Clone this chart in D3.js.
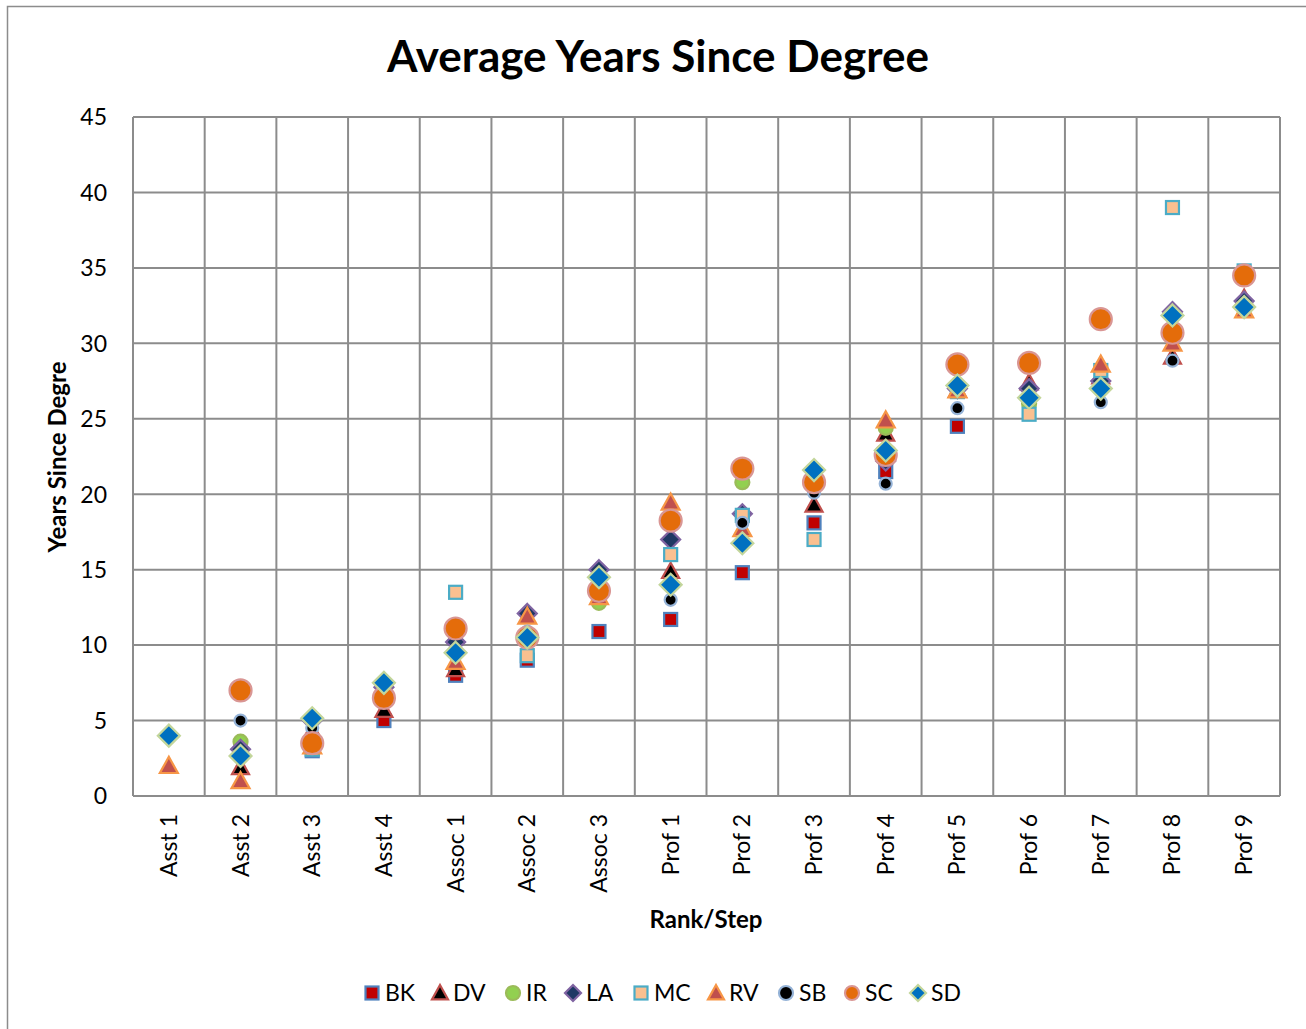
<!DOCTYPE html>
<html>
<head>
<meta charset="utf-8">
<script src="https://cdn.jsdelivr.net/npm/d3@7"></script>
<style>
  body { margin: 0; background: #fff; }
  text { font-family: Lato, "Open Sans", sans-serif; fill: #000; }
</style>
</head>
<body>
<svg id="chart" width="1306" height="1029"></svg>
<script>
// categories along the x axis
var steps = ["Asst 1","Asst 2","Asst 3","Asst 4","Assoc 1","Assoc 2","Assoc 3",
  "Prof 1","Prof 2","Prof 3","Prof 4","Prof 5","Prof 6","Prof 7","Prof 8","Prof 9"];

// values per campus, null = no point
var BK = [null, null, 3.0, 5.0, 8.0, 9.0, 10.9, 11.7, 14.8, 18.1, 21.5, 24.5, null, null, null, null];
var DV = [null, 1.9, 4.3, 5.7, 8.4, null, null, 14.9, null, 19.3, 24.0, 26.9, 27.4, 27.8, 29.1, 33.0];
var IR = [null, 3.6, null, null, null, null, 12.8, null, 20.8, null, 24.4, null, 26.0, null, null, null];
var LA = [null, 3.1, 5.0, 7.2, 10.2, 12.1, 15.0, 17.0, 18.7, null, 22.2, 27.0, 27.0, 27.5, 32.1, 32.8];
var MC = [null, null, 3.1, null, 13.5, 9.3, null, 16.0, 18.6, 17.0, null, 26.8, 25.3, 28.2, 39.0, 34.8];
var RV = [2.0, 1.0, 3.3, null, 8.9, 11.9, 13.2, 19.45, 17.7, null, 24.9, 26.9, null, 28.6, 30.0, 32.2];
var SB = [null, 5.0, 4.5, null, null, 10.9, null, 13.0, 18.1, 20.1, 20.7, 25.7, null, 26.1, 28.85, null];
var SC = [null, 7.0, 3.5, 6.5, 11.1, 10.5, 13.6, 18.25, 21.7, 20.8, 22.6, 28.6, 28.7, 31.6, 30.7, 34.5];
var SD = [4.0, 2.65, 5.15, 7.5, 9.5, 10.5, 14.5, 14.0, 16.75, 21.6, 22.9, 27.2, 26.4, 27.0, 31.85, 32.4];

var yTicks = [0, 5, 10, 15, 20, 25, 30, 35, 40, 45];

var series = [
  {name: "BK", vals: BK, shape: "square",   size: 13, fill: "#C00000", stroke: "#4F81BD"},
  {name: "DV", vals: DV, shape: "triangle", size: 17, fill: "#000000", stroke: "#C0504D"},
  {name: "IR", vals: IR, shape: "circle",   size: 14, fill: "#92D050", stroke: "#9BBB59"},
  {name: "LA", vals: LA, shape: "diamond",  size: 19, fill: "#1F3864", stroke: "#8064A2"},
  {name: "MC", vals: MC, shape: "square",   size: 13, fill: "#FAC090", stroke: "#4BACC6"},
  {name: "RV", vals: RV, shape: "triangle", size: 18, fill: "#C0504D", stroke: "#F79646"},
  {name: "SB", vals: SB, shape: "circle",   size: 12, fill: "#000000", stroke: "#95B3D7"},
  {name: "SC", vals: SC, shape: "circle",   size: 22, fill: "#E46C0A", stroke: "#D99694"},
  {name: "SD", vals: SD, shape: "diamond",  size: 22, fill: "#0070C0", stroke: "#C3D69B"}
];

(function () {
  var svg = d3.select("#chart");
  var pLeft = 133, pRight = 1280, pTop = 117, pBottom = 796;

  // outer chart border
  svg.append("rect").attr("x", 7.5).attr("y", 6.5).attr("width", 1310).attr("height", 1040)
    .attr("fill", "none").attr("stroke", "#8c8c8c").attr("stroke-width", 1.5);

  var x = d3.scaleBand().domain(steps).range([pLeft, pRight]);
  var y = d3.scaleLinear().domain([0, 45]).range([pBottom, pTop]);

  // grid
  var g = svg.append("g");
  g.selectAll(".h").data(yTicks).enter().append("line")
    .attr("x1", pLeft).attr("x2", pRight)
    .attr("y1", d => y(d)).attr("y2", d => y(d))
    .attr("stroke", "#8c8c8c").attr("stroke-width", 2);
  var vlines = steps.map(s => x(s)).concat([pRight]);
  g.selectAll(".v").data(vlines).enter().append("line")
    .attr("x1", d => d).attr("x2", d => d)
    .attr("y1", pTop).attr("y2", pBottom)
    .attr("stroke", "#8c8c8c").attr("stroke-width", 2);

  // y tick labels
  svg.selectAll(".yl").data(yTicks).enter().append("text")
    .attr("x", 107).attr("y", d => y(d)).attr("dy", "0.36em")
    .attr("text-anchor", "end").attr("font-size", 23).text(d => d);

  // x tick labels, rotated
  svg.selectAll(".xl").data(steps).enter().append("text")
    .attr("transform", d => "translate(" + (x(d) + x.bandwidth() / 2 + 8) + ",814) rotate(-90)")
    .attr("text-anchor", "end").attr("font-size", 23).text(d => d);

  // titles
  svg.append("text").attr("x", 658).attr("y", 72).attr("text-anchor", "middle")
    .attr("font-size", 44).attr("font-weight", "bold").text("Average Years Since Degree");
  svg.append("text").attr("transform", "translate(66,457) rotate(-90)").attr("text-anchor", "middle")
    .attr("font-size", 24).attr("font-weight", "bold").text("Years Since Degre");
  svg.append("text").attr("x", 706).attr("y", 928).attr("text-anchor", "middle")
    .attr("font-size", 24).attr("font-weight", "bold").text("Rank/Step");

  function marker(sel, s, scale) {
    var sz = s.size * (scale || 1);
    var m;
    if (s.shape === "circle") {
      m = sel.append("circle").attr("r", sz / 2);
    } else if (s.shape === "square") {
      m = sel.append("rect").attr("x", -sz / 2).attr("y", -sz / 2).attr("width", sz).attr("height", sz);
    } else if (s.shape === "diamond") {
      var h = sz / 2;
      m = sel.append("path").attr("d", "M0," + (-h) + "L" + h + ",0L0," + h + "L" + (-h) + ",0Z");
    } else {
      var w = sz / 2;
      m = sel.append("path").attr("d", "M0," + (-w) + "L" + w + "," + (w * 0.8) + "L" + (-w) + "," + (w * 0.8) + "Z");
    }
    m.attr("fill", s.fill).attr("stroke", s.stroke).attr("stroke-width", 2.2);
  }

  // points
  series.forEach(s => {
    var pts = steps.map((c, i) => ({c: c, v: s.vals[i]})).filter(d => d.v != null);
    svg.append("g").selectAll("g").data(pts).enter().append("g")
      .attr("transform", d => "translate(" + (x(d.c) + x.bandwidth() / 2) + "," + y(d.v) + ")")
      .each(function () { marker(d3.select(this), s); });
  });

  // legend
  var legX = [372, 440, 513, 573, 641, 716, 786, 852, 918];
  var legSize = {square: 13, triangle: 16, circle: 14, diamond: 16};
  series.forEach((s, i) => {
    var lg = svg.append("g").attr("transform", "translate(" + legX[i] + ",993)");
    marker(lg, s, legSize[s.shape] / s.size);
    lg.append("text").attr("x", 13).attr("dy", "0.36em").attr("font-size", 23).text(s.name);
  });
})();
</script>
</body>
</html>
